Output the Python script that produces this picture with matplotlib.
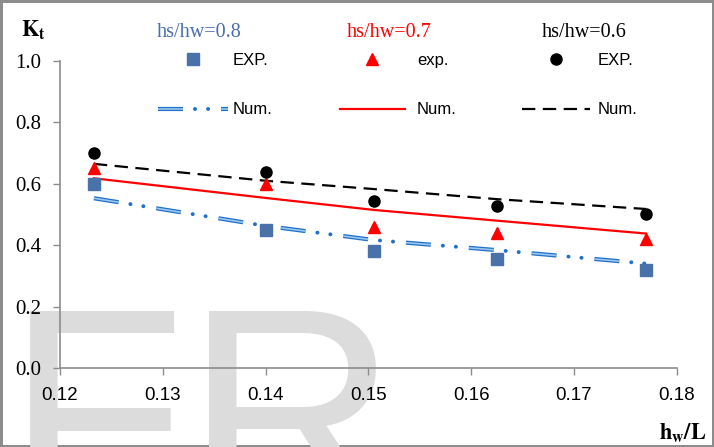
import matplotlib

matplotlib.use("Agg")

import matplotlib.pyplot as plt
import matplotlib.patheffects as pe
from matplotlib.lines import Line2D

plt.rcParams["mathtext.fontset"] = "stix"
plt.rcParams["lines.scale_dashes"] = False

# hw/L positions of the test points
hw_L = [0.1233, 0.1400, 0.1505, 0.1625, 0.1770]

# experimental Kt
exp_08 = [0.60, 0.45, 0.38, 0.355, 0.32]
exp_07 = [0.65, 0.60, 0.46, 0.44, 0.42]
exp_06 = [0.70, 0.64, 0.545, 0.528, 0.503]

# numerical Kt
num_08 = [0.553, 0.463, 0.417, 0.384, 0.340]
num_07 = [0.618, 0.554, 0.515, 0.480, 0.438]
num_06 = [0.665, 0.610, 0.583, 0.550, 0.518]

x_ticks = [0.12, 0.13, 0.14, 0.15, 0.16, 0.17, 0.18]
y_ticks = [0.0, 0.2, 0.4, 0.6, 0.8, 1.0]

BLUE_MK = "#4a72aa"
BLUE_LN = "#1f70c8"
BLUE_IN = "#9cc6ec"
BLUE_TXT = "#4a6ea8"
RED = "#ff0000"
GRAY = "#8c8c8c"

# long dash - dot - dot, drawn as two overlaid patterns (points)
DASH_PART = (0, (18, 27.4))
DOT_PART = (18.8, (0.1, 9.3, 0.1, 35.9))
BLACK_DASH = (0, (9.6, 5.4))
blue_fx = [pe.Stroke(linewidth=3.0, foreground=BLUE_LN), pe.Normal()]


def blue_num(target, x=None, y=None):
    kw_a = dict(color=BLUE_IN, lw=1.2, ls=DASH_PART, path_effects=blue_fx)
    kw_b = dict(color=BLUE_LN, lw=2.8, ls=DOT_PART, dash_capstyle="round")
    if target is None:
        return (Line2D([], [], **kw_a), Line2D([], [], **kw_b))
    target.plot(x, y, **kw_a)
    target.plot(x, y, **kw_b)


fig = plt.figure(figsize=(7.14, 4.47), dpi=100)
fig.patch.set_edgecolor(GRAY)
fig.patch.set_linewidth(2.5)

# watermark behind the chart
fig.text(0.008, -0.147, "FR", fontsize=212, color="#dcdcdc",
         family="Liberation Sans", zorder=-1)

ax = fig.add_axes([0.084, 0.1767, 0.864, 0.6868])
ax.patch.set_alpha(0)

blue_num(ax, hw_L, num_08)
ax.plot(hw_L, num_07, color=RED, lw=1.6)
ax.plot(hw_L, num_06, color="black", lw=1.6, ls=BLACK_DASH)

ax.plot(hw_L, exp_08, "s", color=BLUE_MK, ms=8, ls="none")
ax.plot(hw_L, exp_07, "^", color=RED, ms=9, ls="none")
ax.plot(hw_L, exp_06, "o", color="black", ms=8, ls="none")

ax.set_xlim(0.12, 0.18)
ax.set_ylim(0.0, 1.0)
ax.set_xticks(x_ticks)
ax.set_yticks(y_ticks)
ax.set_xticklabels([f"{v:.2f}" for v in x_ticks], family="Liberation Sans", fontsize=13.5)
ax.set_yticklabels([f"{v:.1f}" for v in y_ticks], family="Liberation Serif", fontsize=15)
ax.tick_params(axis="both", direction="out", length=5, color=GRAY, width=1)
ax.tick_params(axis="x", pad=9)
ax.tick_params(axis="y", pad=8.5)
for side in ("top", "right"):
    ax.spines[side].set_visible(False)
for side in ("left", "bottom"):
    ax.spines[side].set_color(GRAY)
    ax.spines[side].set_linewidth(1.2)

fig.text(0.030, 0.935, r"$\mathbf{K}_{\mathbf{t}}$", fontsize=16, va="center")
fig.text(0.990, 0.033, r"$\mathbf{h}_{\mathbf{w}}\mathbf{/L}$", fontsize=16,
         ha="right", va="center")

groups = [
    ("hs/hw=0.8", BLUE_TXT, "EXP.",
     Line2D([], [], marker="s", color=BLUE_MK, ms=8, ls="none"),
     blue_num(None),
     0.221, 0.220, 4.2, 0.3),
    ("hs/hw=0.7", RED, "exp.",
     Line2D([], [], marker="^", color=RED, ms=9, ls="none"),
     Line2D([], [], color=RED, lw=1.6),
     0.476, 0.486, 3.9, 0.72),
    ("hs/hw=0.6", "black", "EXP.",
     Line2D([], [], marker="o", color="black", ms=8, ls="none"),
     Line2D([], [], color="black", lw=1.6, ls=BLACK_DASH),
     0.731, 0.759, 4.07, 0.48),
]

for title, tcolor, exp_label, mk, ln, left, tleft, hlen, hpad in groups:
    fig.text(tleft, 0.928, title, color=tcolor, family="Liberation Serif",
             fontsize=14.5, va="center", ha="left")
    fig.legend([mk, ln], [exp_label, "Num."], loc="upper left",
               bbox_to_anchor=(left, 0.881), bbox_transform=fig.transFigure,
               frameon=False, borderpad=0, borderaxespad=0,
               handlelength=hlen, handletextpad=hpad, labelspacing=2.05,
               prop={"family": "Liberation Sans", "size": 12})

fig.savefig("out.png", dpi=100)
